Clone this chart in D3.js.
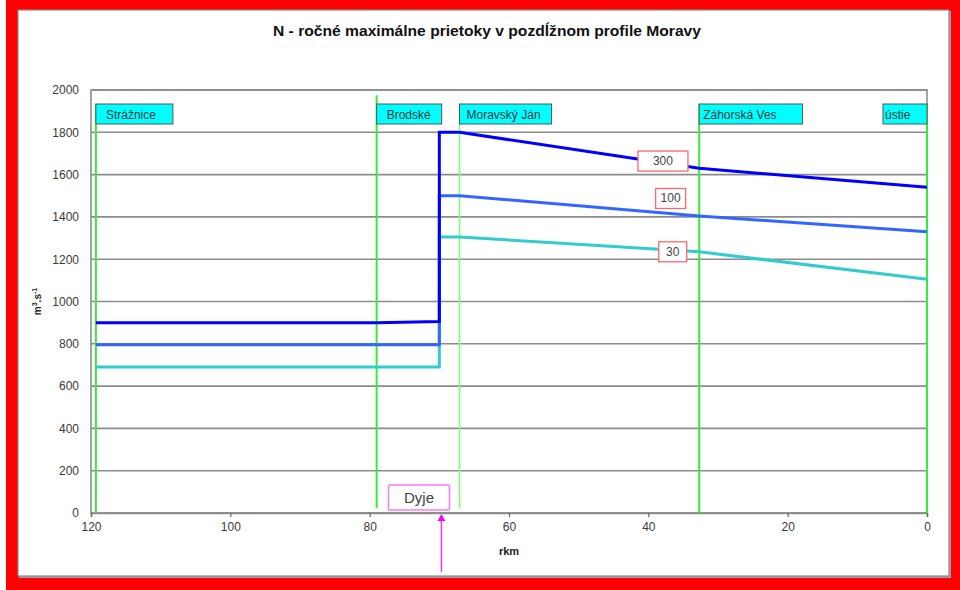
<!DOCTYPE html>
<html><head><meta charset="utf-8">
<script src="https://cdn.jsdelivr.net/npm/d3@7"></script>
<style>
html,body{margin:0;padding:0;background:#fff;}
svg{display:block;font-family:"Liberation Sans",Arial,sans-serif;}
</style></head>
<body>
<svg id="c" width="960" height="590"></svg>
<script>
// ---- data ----
const titleText = "N - ročné maximálne prietoky v pozdĺžnom profile Moravy";
const xTicks = [120, 100, 80, 60, 40, 20, 0];
const yTicks = [0, 200, 400, 600, 800, 1000, 1200, 1400, 1600, 1800, 2000];
const profileRkm = [119.3, 79, 70, 70, 67.1, 32.7, 0];
const q300 = [900, 900, 905, 1800, 1800, 1630, 1540];
const q100 = [795, 795, 795, 1500, 1500, 1404, 1330];
const q30  = [690, 690, 690, 1305, 1305, 1235, 1105];
const stationNames = ["Strážnice", "Brodské", "Moravský Ján", "Záhorská Ves", "ústie"];
const stationRkm = [119.3, 79, 67.1, 32.7, 0];
const stationTop = [1935, 1975, 1935, 1935, 1935];
const seriesNames = ["30", "100", "300"];
const seriesLabelRkm = [36.5, 36.8, 37.9];
const seriesLabelQ = [1235, 1487, 1664];
const dyjeRkm = 69.7;

// ---- layout ----
const svg = d3.select("#c");
svg.append("rect").attr("x",6).attr("y",0).attr("width",954).attr("height",590).attr("fill","#ff0000");
svg.append("rect").attr("x",19).attr("y",11).attr("width",932).attr("height",567).attr("fill","#9aa3a8");
svg.append("rect").attr("x",18).attr("y",10).attr("width",931).attr("height",566).attr("fill","#fff").attr("stroke","#8a8a8a").attr("stroke-width",1.2);

const x = d3.scaleLinear().domain([120,0]).range([91,927]);
const y = d3.scaleLinear().domain([0,2000]).range([513,90]);

svg.append("text").attr("x",487).attr("y",36).attr("text-anchor","middle")
  .attr("font-size",15).attr("font-weight","bold").attr("fill","#111")
  .attr("textLength",428).attr("lengthAdjust","spacingAndGlyphs").text(titleText);

// gridlines
svg.append("g").selectAll("line").data(yTicks).join("line")
  .attr("x1",x(120)).attr("x2",x(0)).attr("y1",d=>y(d)).attr("y2",d=>y(d))
  .attr("stroke","#8c8c8c").attr("stroke-width",1.6);
// plot border
svg.append("rect").attr("x",x(120)).attr("y",y(2000)).attr("width",x(0)-x(120)).attr("height",y(0)-y(2000))
  .attr("fill","none").attr("stroke","#8c8c8c").attr("stroke-width",1.6);

// axes
const gx = svg.append("g").attr("transform",`translate(0,${y(0)})`)
  .call(d3.axisBottom(x).tickValues(xTicks).tickSize(4).tickPadding(5).tickFormat(d3.format("d")));
gx.select(".domain").attr("stroke","#8c8c8c").attr("stroke-width",1.6);
gx.selectAll(".tick line").attr("stroke","#666").attr("stroke-width",1.2);
gx.selectAll("text").attr("font-size",12).attr("fill","#3a3a3a").attr("font-family","Liberation Sans, Arial, sans-serif");

const gy = svg.append("g").attr("transform",`translate(${x(120)},0)`)
  .call(d3.axisLeft(y).tickValues(yTicks).tickSize(0).tickPadding(12).tickFormat(d3.format("d")));
gy.select(".domain").remove();
gy.selectAll("text").attr("font-size",12).attr("fill","#3a3a3a").attr("font-family","Liberation Sans, Arial, sans-serif");

// axis titles
svg.append("text").attr("x",(x(120)+x(0))/2).attr("y",555).attr("text-anchor","middle")
  .attr("font-size",11).attr("font-weight","bold").attr("fill","#222").text("rkm");
const yt = svg.append("text").attr("transform",`translate(41,${(y(0)+y(2000))/2}) rotate(-90)`)
  .attr("text-anchor","middle").attr("font-size",10).attr("font-weight","bold").attr("fill","#222");
yt.append("tspan").text("m");
yt.append("tspan").attr("dy",-4).attr("font-size",7).text("3");
yt.append("tspan").attr("dy",4).text(".s");
yt.append("tspan").attr("dy",-4).attr("font-size",7).text("-1");

// station lines
svg.append("g").selectAll("line").data(stationRkm).join("line")
  .attr("x1",d=>x(d)).attr("x2",d=>x(d))
  .attr("y1",(d,i)=>y(stationTop[i])).attr("y2",(d,i)=> i===1 || i===2 ? 508 : y(0))
  .attr("stroke",(d,i)=> i===2 ? "#7dff7d" : "#33ee33")
  .attr("stroke-width",(d,i)=> i===2 ? 1.6 : 2);

// series
const line = d3.line().x(d=>x(d[0])).y(d=>y(d[1]));
const series = [
  {vals:q30, color:"#33cccc"},
  {vals:q100, color:"#3366ff"},
  {vals:q300, color:"#0000ff"}
];
series.forEach(s=>{
  svg.append("path").datum(profileRkm.map((r,i)=>[r,s.vals[i]]))
    .attr("d",line).attr("fill","none").attr("stroke",s.color).attr("stroke-width",3)
    .attr("stroke-linejoin","miter");
});

// station label boxes
const padL = [10, 10, 7, 4, 2];
const padR = [17, 11, 11, 26, 8];
stationNames.forEach((n,i)=>{
  const g = svg.append("g");
  const bx = x(stationRkm[i]);
  const t = g.append("text").attr("y",119).attr("font-size",12).attr("fill","#1a3a3a").text(n);
  const w = t.node().getComputedTextLength();
  let boxW = padL[i] + w + padR[i];
  let left = bx;
  if (i === stationNames.length-1) { left = x(0) - 44; boxW = 44; }
  g.insert("rect","text").attr("x",left).attr("y",104).attr("width",boxW).attr("height",20)
    .attr("fill","#00ffff").attr("stroke","#555").attr("stroke-width",1);
  t.attr("x",left+padL[i]);
});

// series label boxes
const labW = [28, 30, 50];
seriesNames.forEach((n,i)=>{
  const cx = x(seriesLabelRkm[i]), cy = y(seriesLabelQ[i]);
  svg.append("rect").attr("x",cx-labW[i]/2).attr("y",cy-10).attr("width",labW[i]).attr("height",20)
    .attr("fill","#fff").attr("stroke","#ff6666").attr("stroke-width",1.3);
  svg.append("text").attr("x",cx).attr("y",cy+4).attr("text-anchor","middle")
    .attr("font-size",12).attr("fill","#444").text(n);
});

// Dyje annotation
const dx = x(dyjeRkm);
svg.append("rect").attr("x",388.5).attr("y",485).attr("width",61).attr("height",25).attr("rx",1)
  .attr("fill","#fff").attr("stroke","#ff77ff").attr("stroke-width",1.5);
svg.append("text").attr("x",419).attr("y",503).attr("text-anchor","middle")
  .attr("font-size",15).attr("fill","#444").text("Dyje");
svg.append("line").attr("x1",dx).attr("x2",dx).attr("y1",520).attr("y2",572)
  .attr("stroke","#ff33ff").attr("stroke-width",1.5);
svg.append("path").attr("d",`M${dx},514 L${dx-4},521 L${dx+4},521 Z`).attr("fill","#ff00ff");
</script>
</body></html>
